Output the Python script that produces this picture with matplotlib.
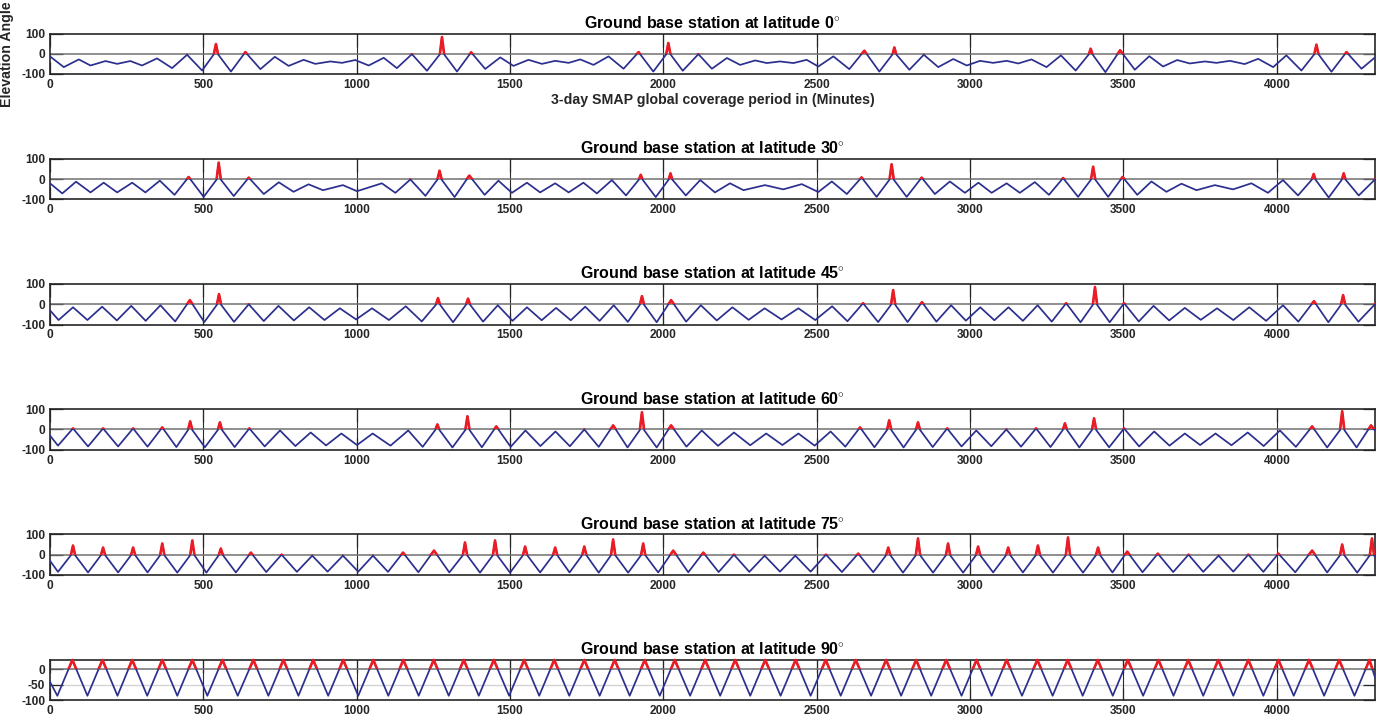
import matplotlib
matplotlib.use("Agg")
import matplotlib.pyplot as plt
from matplotlib.patches import Rectangle

plt.rcParams['font.family'] = ['Liberation Sans', 'DejaVu Sans']
plt.rcParams['font.weight'] = 'bold'
plt.rcParams['axes.unicode_minus'] = False
plt.rcParams['mathtext.fontset'] = 'custom'
plt.rcParams['mathtext.rm'] = 'Liberation Sans:bold'
plt.rcParams['mathtext.bf'] = 'Liberation Sans:bold'

latitudes = [0, 30, 45, 60, 75, 90]

# Elevation angle (deg) at the turning points of the track, minutes from start
minutes_lat0 = [0, 45, 94, 132, 181, 219, 262, 300, 349, 398, 447, 496, 534, 541, 548, 590, 637, 686,
                733, 778, 827, 865, 914, 952, 995, 1039, 1088, 1131, 1180, 1229, 1271, 1278, 1285,
                1327, 1373, 1419, 1468, 1511, 1560, 1604, 1647, 1691, 1729, 1772, 1821, 1870, 1919,
                1967, 2009, 2016, 2023, 2063, 2114, 2158, 2207, 2250, 2299, 2337, 2380, 2424, 2467,
                2505, 2554, 2606, 2655, 2704, 2747, 2753, 2759, 2802, 2849, 2896, 2945, 2989, 3032,
                3075, 3119, 3157, 3200, 3249, 3296, 3344, 3387, 3393, 3399, 3441, 3489, 3537, 3584,
                3629, 3675, 3716, 3765, 3803, 3847, 3895, 3939, 3988, 4031, 4080, 4122, 4129, 4136,
                4178, 4227, 4276, 4320]
elev_lat0 = [-13, -66, -28, -58, -36, -50, -36, -58, -23, -71, -5, -83, -3, 48, -3, -88, 8, -76,
             -15, -60, -30, -50, -38, -45, -31, -58, -20, -71, -2, -84, -3, 83, -3,
             -88, 7, -75, -18, -60, -30, -50, -35, -45, -28, -55, -13, -74, 8,
             -88, -3, 53, -3, -84, -2, -74, -21, -55, -33, -46, -38, -46, -30,
             -63, -13, -76, 15, -88, -3, 31, -3, -79, -5, -66, -26, -58, -35,
             -45, -35, -48, -28, -66, -8, -83, -3, 25, -3, -91, 17, -79, -12,
             -63, -31, -48, -38, -45, -35, -51, -25, -66, -8, -83, -3, 45, -3,
             -89, 8, -74, -18]

minutes_lat30 = [0, 40, 85, 132, 175, 219, 268, 311, 358, 406, 452, 501, 543, 550, 557, 599, 648, 697,
                 746, 794, 843, 890, 955, 1001, 1082, 1126, 1175, 1224, 1263, 1270, 1277, 1319, 1367,
                 1417, 1462, 1506, 1555, 1598, 1647, 1691, 1739, 1783, 1832, 1878, 1920, 1926, 1932,
                 1975, 2017, 2023, 2029, 2073, 2120, 2168, 2217, 2261, 2331, 2391, 2451, 2505, 2549,
                 2598, 2646, 2695, 2737, 2744, 2751, 2793, 2842, 2885, 2934, 2983, 3027, 3070, 3119,
                 3162, 3211, 3257, 3303, 3352, 3394, 3401, 3408, 3450, 3497, 3545, 3591, 3640, 3689,
                 3738, 3798, 3857, 3917, 3971, 4020, 4069, 4114, 4120, 4126, 4169, 4212, 4218, 4224,
                 4267, 4320]
elev_lat30 = [-21, -71, -13, -66, -18, -66, -18, -66, -8, -78, 10, -88, -3, 81, -3, -84, 7, -74,
              -16, -63, -26, -55, -30, -60, -21, -68, -2, -83, -3, 41, -3, -89, 17,
              -78, -8, -68, -18, -66, -21, -66, -18, -71, -5, -81, -3, 21, -3,
              -89, -3, 28, -3, -81, -5, -66, -21, -55, -30, -51, -25, -64, -12,
              -74, 8, -88, -3, 73, -3, -88, 7, -74, -12, -68, -18, -68, -21,
              -68, -15, -78, 5, -88, -3, 61, -3, -88, 10, -78, -12, -63, -23,
              -55, -30, -51, -21, -68, -5, -81, -3, 25, -3, -91, -3, 28, -3,
              -81, -2]

minutes_lat45 = [0, 28, 75, 122, 170, 218, 265, 312, 360, 408, 456, 503, 544, 551, 558, 600, 648,
                 697, 745, 795, 845, 895, 945, 998, 1050, 1105, 1160, 1212, 1258, 1265, 1272, 1314,
                 1356, 1363, 1370, 1412, 1460, 1508, 1555, 1603, 1650, 1698, 1745, 1792, 1838, 1884,
                 1923, 1930, 1937, 1978, 2025, 2074, 2122, 2174, 2225, 2278, 2330, 2385, 2440, 2495,
                 2550, 2600, 2651, 2700, 2742, 2749, 2756, 2796, 2843, 2890, 2938, 2986, 3033, 3079,
                 3125, 3172, 3220, 3266, 3313, 3360, 3400, 3407, 3414, 3455, 3502, 3550, 3598, 3649,
                 3700, 3752, 3805, 3858, 3910, 3965, 4020, 4070, 4121, 4168, 4209, 4216, 4223, 4266,
                 4320]
elev_lat45 = [-30, -78, -15, -78, -12, -80, -8, -82, -5, -85, 20, -88, -3, 50, -3, -87, 0,
              -83, -8, -80, -15, -78, -20, -75, -20, -78, -10, -85, -3, 30, -3, -89,
              -3, 28, -3, -86, -5, -82, -15, -79, -18, -79, -12, -82, -5, -87,
              -3, 40, -3, -89, 20, -86, -5, -80, -15, -77, -20, -75, -20, -78,
              -10, -84, 5, -88, -3, 70, -3, -88, 10, -86, -5, -81, -15, -79,
              -15, -82, -5, -86, 5, -89, -3, 85, -3, -89, 5, -85, -8, -80,
              -18, -77, -20, -78, -15, -82, -5, -86, 15, -89, -3, 45, -3, -86,
              0]

minutes_lat60 = [0, 26, 75, 124, 173, 222, 271, 318, 366, 412, 450, 457, 464, 505, 547, 554, 561,
                 602, 650, 700, 750, 800, 850, 900, 950, 1001, 1052, 1110, 1168, 1215, 1256, 1263,
                 1270, 1312, 1354, 1361, 1368, 1408, 1455, 1502, 1550, 1599, 1648, 1695, 1742, 1789,
                 1836, 1883, 1923, 1930, 1937, 1978, 2025, 2075, 2125, 2178, 2230, 2283, 2335, 2388,
                 2440, 2493, 2545, 2593, 2641, 2688, 2729, 2736, 2743, 2783, 2823, 2830, 2837, 2878,
                 2925, 2972, 3020, 3069, 3118, 3166, 3215, 3262, 3302, 3309, 3316, 3356, 3397, 3404,
                 3411, 3453, 3502, 3551, 3600, 3650, 3700, 3750, 3800, 3852, 3905, 3957, 4010, 4062,
                 4115, 4164, 4206, 4213, 4220, 4260, 4307, 4320]
elev_lat60 = [-30, -80, 5, -84, 5, -84, 5, -85, 10, -87, -3, 40, -3, -88, -3, 35, -3,
              -87, 5, -84, -5, -82, -15, -79, -20, -77, -20, -80, -5, -86, -3, 25,
              -3, -89, -3, 65, -3, -88, 15, -86, -5, -82, -10, -83, 0, -86,
              20, -89, -3, 85, -3, -89, 20, -85, -5, -81, -15, -78, -20, -77,
              -20, -80, -10, -85, 10, -88, -3, 45, -3, -89, -3, 35, -3, -87,
              5, -84, -5, -83, 0, -85, 5, -87, -3, 30, -3, -89, -3, 55,
              -3, -88, 5, -84, -10, -80, -20, -77, -20, -78, -15, -82, -5, -86,
              15, -89, -3, 90, -3, -89, 20, -5]

minutes_lat75 = [0, 26, 68, 75, 82, 124, 166, 173, 180, 222, 264, 271, 278, 318, 359, 366, 373, 415,
                 457, 464, 471, 510, 550, 557, 564, 606, 655, 705, 755, 805, 855, 905, 955, 1005,
                 1053, 1102, 1151, 1201, 1252, 1302, 1346, 1353, 1360, 1402, 1444, 1451, 1458, 1500,
                 1542, 1549, 1556, 1598, 1640, 1647, 1654, 1694, 1735, 1742, 1749, 1789, 1829, 1836,
                 1843, 1885, 1927, 1934, 1941, 1983, 2032, 2081, 2130, 2180, 2230, 2280, 2330, 2380,
                 2430, 2480, 2530, 2582, 2635, 2684, 2726, 2733, 2740, 2781, 2823, 2830, 2837, 2879,
                 2921, 2928, 2935, 2977, 3019, 3026, 3033, 3075, 3117, 3124, 3131, 3172, 3214, 3221,
                 3228, 3270, 3312, 3319, 3326, 3368, 3410, 3417, 3424, 3464, 3512, 3562, 3612, 3662,
                 3712, 3760, 3810, 3858, 3907, 3956, 4005, 4060, 4115, 4164, 4206, 4213, 4220, 4262,
                 4303, 4310, 4317, 4320]
elev_lat75 = [-30, -85, -3, 45, -3, -88, -3, 35, -3, -88, -3, 35, -3, -88, -3, 55, -3, -89,
              -3, 70, -3, -89, -3, 30, -3, -88, 10, -86, 0, -85, -5, -84, -5, -84,
              -5, -85, 10, -87, 20, -88, -3, 60, -3, -89, -3, 70, -3, -89,
              -3, 40, -3, -88, -3, 35, -3, -88, -3, 40, -3, -89, -3, 75,
              -3, -89, -3, 55, -3, -88, 20, -87, 10, -86, 0, -85, -5, -84,
              -5, -84, 0, -86, 5, -87, -3, 35, -3, -89, -3, 80, -3, -89,
              -3, 55, -3, -89, -3, 40, -3, -88, -3, 35, -3, -88, -3, 45,
              -3, -89, -3, 85, -3, -89, -3, 35, -3, -88, 15, -87, 5, -86,
              0, -85, -5, -84, 0, -85, 5, -87, 20, -88, -3, 50, -3, -89,
              -3, 80, -3, -10]

minutes_lat90 = [0, 24, 73, 122, 171, 220, 268, 317, 366, 415, 464, 513, 562, 612, 663, 712, 761,
                 810, 858, 907, 956, 1005, 1054, 1103, 1152, 1202, 1251, 1300, 1349, 1398, 1447,
                 1497, 1546, 1595, 1644, 1693, 1742, 1792, 1841, 1890, 1939, 1988, 2037, 2087, 2136,
                 2185, 2234, 2283, 2332, 2382, 2431, 2480, 2529, 2578, 2627, 2677, 2726, 2775, 2824,
                 2873, 2922, 2972, 3021, 3070, 3119, 3169, 3219, 3269, 3318, 3367, 3416, 3465, 3514,
                 3564, 3614, 3663, 3711, 3760, 3809, 3858, 3907, 3956, 4005, 4055, 4105, 4154, 4203,
                 4253, 4302, 4320]
elev_lat90 = [-41, -86, 30, -86, 30, -86, 30, -86, 30, -86, 30, -86, 30, -86, 30, -86, 30,
              -86, 30, -86, 30, -86, 30, -86, 30, -86, 30, -86, 30, -86, 30,
              -86, 30, -86, 30, -86, 30, -86, 30, -86, 30, -86, 30, -86, 30,
              -86, 30, -86, 30, -86, 30, -86, 30, -86, 30, -86, 30, -86, 30,
              -86, 30, -86, 30, -86, 30, -86, 30, -86, 30, -86, 30, -86, 30,
              -86, 30, -86, 30, -86, 30, -86, 30, -86, 30, -86, 30, -86, 30,
              -86, 30, -27]

series = [
    (minutes_lat0, elev_lat0),
    (minutes_lat30, elev_lat30),
    (minutes_lat45, elev_lat45),
    (minutes_lat60, elev_lat60),
    (minutes_lat75, elev_lat75),
    (minutes_lat90, elev_lat90),
]

BLUE = '#2b2f8e'
RED = '#ec1c24'
DARK = '#262626'

W, H = 1396, 719
fig = plt.figure(figsize=(W / 100, H / 100), dpi=100)
left_px, right_px = 50, 1375
tops = [33.5, 158.8, 284.0, 409.2, 534.4, 659.6]
height_px = 40.5

for i, (lat, (t, e)) in enumerate(zip(latitudes, series)):
    top = tops[i]
    ax = fig.add_axes([left_px / W, 1 - (top + height_px) / H,
                       (right_px - left_px) / W, height_px / H])
    ax.set_xlim(0, 4320)
    xt = list(range(0, 4001, 500))
    ax.set_xticks(xt)
    if lat == 90:
        ax.set_ylim(-100, 31)
        ax.set_yticks([-100, -50, 0])
        ax.axhline(-50, color='#d4d4d4', lw=1.0, zorder=1)
    else:
        ax.set_ylim(-100, 100)
        ax.set_yticks([-100, 0, 100])
    for x in xt[1:]:
        ax.axvline(x, color='#2a2a2a', lw=0.8, zorder=1)
    ax.axhline(0, color='#707070', lw=1.1, zorder=2)

    ax.plot(t, e, color=BLUE, lw=1.25, zorder=3)
    red, = ax.plot(t, e, color=RED, lw=1.9, zorder=4)
    red.set_clip_path(Rectangle((0, 0), 4320, 200, transform=ax.transData))

    ax.set_title(f'Ground base station at latitude {lat}$^{{\\circ}}$',
                 fontsize=11.5, fontweight='bold', pad=4, color='black')
    ax.tick_params(direction='in', length=9, width=0.9, top=True, right=True,
                   labelsize=8.6, colors=DARK, pad=3.5)
    for lab in ax.get_xticklabels() + ax.get_yticklabels():
        lab.set_fontweight('bold')
    for sp in ax.spines.values():
        sp.set_color(DARK)
        sp.set_linewidth(1.2)
    if i == 0:
        ax.set_xlabel('3-day SMAP global coverage period in (Minutes)',
                      fontsize=10.2, fontweight='bold', labelpad=1.5, color=DARK)
        ax.set_ylabel('Elevation Angle', fontsize=10.2, fontweight='bold', color=DARK)
        ax.yaxis.set_label_coords(-0.027, 0.5)

fig.savefig('out.png', dpi=100)
